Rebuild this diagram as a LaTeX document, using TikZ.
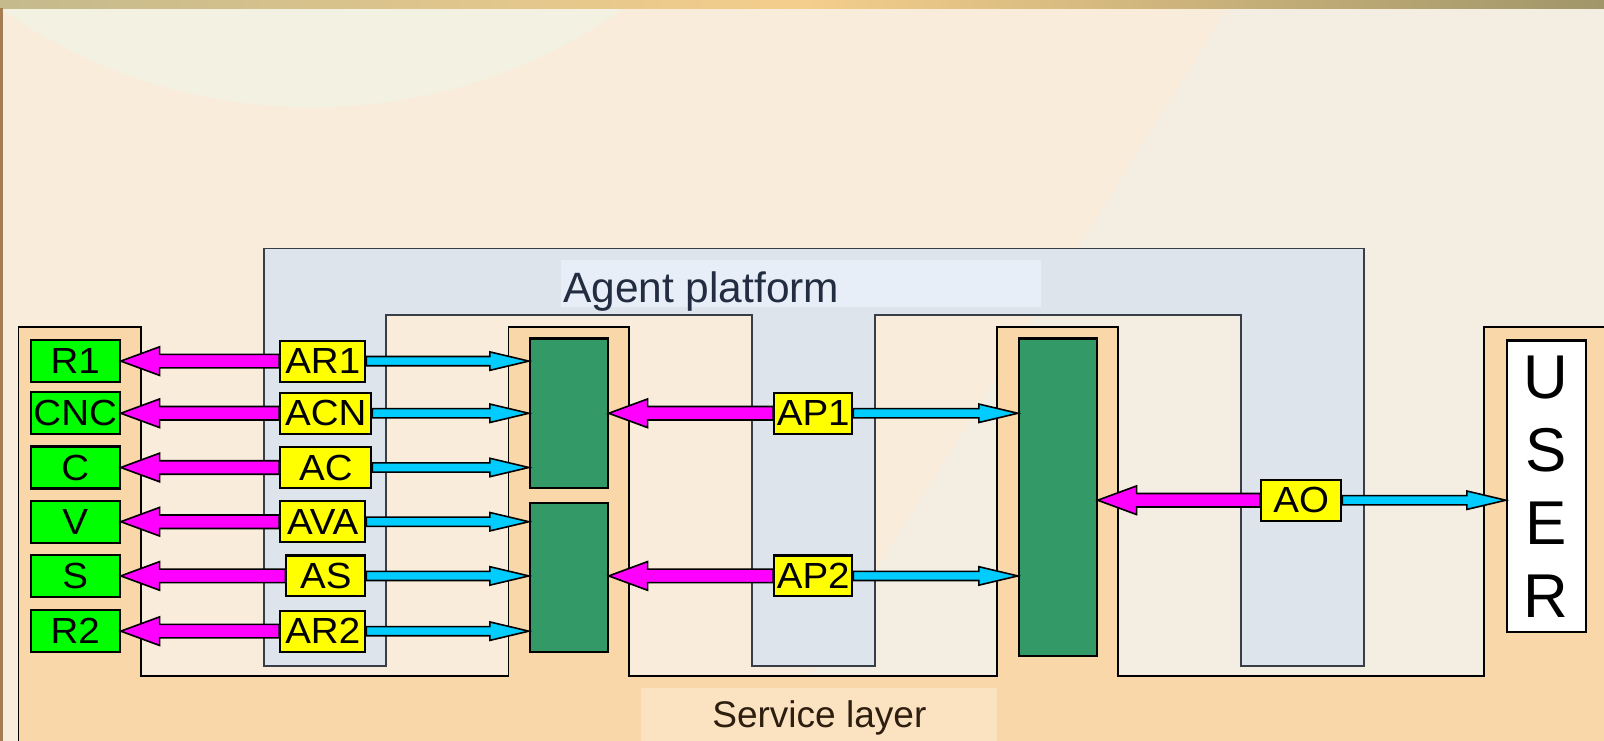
\documentclass[tikz,border=0pt]{standalone}
\usepackage{fontspec}
\setmainfont{Liberation Sans}
\newfontfamily\labelfont[FakeStretch=1.06]{Liberation Sans}
\usetikzlibrary{calc}

\definecolor{bgpeach}{RGB}{250,236,218}
\definecolor{bgright}{RGB}{243,237,226}
\definecolor{bgcircle}{RGB}{243,241,226}
\definecolor{barleft}{RGB}{196,186,140}
\definecolor{barmid}{RGB}{244,206,140}
\definecolor{barright}{RGB}{160,150,105}
\definecolor{edgebrown}{RGB}{165,125,85}
\definecolor{servicefill}{RGB}{249,215,168}
\definecolor{servicelabel}{RGB}{251,226,192}
\definecolor{agentfill}{RGB}{221,228,236}
\definecolor{agentlabel}{RGB}{231,238,248}
\definecolor{agentline}{RGB}{55,62,72}
\definecolor{boxgreen}{RGB}{0,255,0}
\definecolor{hubgreen}{RGB}{51,153,102}
\definecolor{boxyellow}{RGB}{255,255,0}
\definecolor{arrowpink}{RGB}{255,0,255}
\definecolor{arrowcyan}{RGB}{0,204,255}
\definecolor{titletext}{RGB}{35,45,65}
\definecolor{servicetext}{RGB}{45,30,15}

\tikzset{
  % horizontal block arrow: shaft half-height, head half-height, head length, fill
  blockarrow/.style n args={4}{draw=black, line width=0.45pt, line join=miter, fill=#4,
    to path={let \p1=(\tikztostart), \p2=(\tikztotarget), \n1={sign(\x1-\x2)*#3} in
      (\p2) -- ({\x2+\n1},{\y2+#2}) -- ({\x2+\n1},{\y2+#1}) -- ({\x1},{\y2+#1})
      -- ({\x1},{\y2-#1}) -- ({\x2+\n1},{\y2-#1}) -- ({\x2+\n1},{\y2-#2}) -- cycle}},
  pinkarrow/.style={blockarrow={0.066cm}{0.14cm}{0.38cm}{arrowpink}},
  bluearrow/.style={blockarrow={0.045cm}{0.09cm}{0.38cm}{arrowcyan}},
  devicebox/.style={draw=black, line width=0.6pt, fill=boxgreen, minimum width=0.87cm,
    minimum height=0.41cm, inner sep=0pt, font=\labelfont\fontsize{10.1}{12}\selectfont},
  agentbox/.style={draw=black, line width=0.6pt, fill=boxyellow, minimum width=#1,
    minimum height=0.40cm, inner sep=0pt, font=\labelfont\fontsize{10.1}{12}\selectfont},
  hubbox/.style={draw=black, line width=0.6pt, fill=hubgreen, minimum width=0.76cm, inner sep=0pt},
  userbox/.style={draw=black, line width=0.6pt, fill=white, minimum width=0.77cm,
    minimum height=2.85cm, inner sep=0pt, align=center, font=\fontsize{17.2}{20.3}\selectfont},
}

\begin{document}
\begin{tikzpicture}[x=0.01cm, y=-0.01cm]
\useasboundingbox (0,0) rectangle (1568,724);

% slide background
\begin{scope}
  \clip (0,0) rectangle (1568,724);
  \fill[bgpeach] (0,0) rectangle (1568,724);
  \fill[bgcircle] (305,-423) circle (528);
  \fill[bgright] (1200,8) -- (1568,8) -- (1568,724) -- (752,724) -- cycle;
  \shade[left color=barleft, right color=barright, middle color=barmid] (0,0) rectangle (1568,8);
  \fill[edgebrown] (0,8) rectangle (3,724);
\end{scope}

% service layer (comb open at the top)
\draw[fill=servicefill, draw=black, line width=0.5pt]
  (18,740) -- (18,320) -- (138,320) -- (138,661) -- (497,661) -- (497,320)
  -- (615,320) -- (615,661) -- (975,661) -- (975,320) -- (1093,320) -- (1093,661)
  -- (1451,661) -- (1451,320) -- (1580,320) -- (1580,740) -- cycle;
\fill[servicelabel] (627,673) rectangle (975,724);
\node[anchor=base, text=servicetext, font=\fontsize{10.3}{12}\selectfont] (service) at (801,711) {Service layer};

% agent platform (comb open at the bottom)
\draw[fill=agentfill, draw=agentline, line width=0.5pt]
  (258,243) -- (1333,243) -- (1333,651) -- (1213,651) -- (1213,308) -- (855,308)
  -- (855,651) -- (735,651) -- (735,308) -- (377,308) -- (377,651) -- (258,651) -- cycle;
\fill[agentlabel] (548,254) rectangle (1018,300);
\node[anchor=base, text=titletext, font=\fontsize{11.8}{14}\selectfont] (platform) at (685.5,296) {Agent platform};

% hubs and the user
\node[hubbox, minimum height=1.46cm] (D1) at (556,404) {};
\node[hubbox, minimum height=1.45cm] (D2) at (556,564.5) {};
\node[hubbox, minimum height=3.10cm] (D3) at (1034,486) {};
\node[userbox] (user) at (1511.5,475.5) {U\\S\\E\\R};

% devices
\node[devicebox] (R1) at (73.5,353) {R1};
\node[devicebox] (CNC) at (73.5,404) {CNC};
\node[devicebox] (C) at (73.5,457) {C};
\node[devicebox] (V) at (73.5,510) {V};
\node[devicebox] (S) at (73.5,563) {S};
\node[devicebox] (R2) at (73.5,617) {R2};

% agent outlines, used as arrow ends; the filled boxes are drawn last
\node[agentbox=0.83cm, draw=none, fill=none] (AR1) at (315.5,353) {};
\node[agentbox=0.89cm, draw=none, fill=none] (ACN) at (318.5,404) {};
\node[agentbox=0.89cm, draw=none, fill=none] (AC) at (318.5,457) {};
\node[agentbox=0.83cm, draw=none, fill=none] (AVA) at (315.5,510) {};
\node[agentbox=0.77cm, draw=none, fill=none] (AS) at (318.5,563) {};
\node[agentbox=0.83cm, draw=none, fill=none] (AR2) at (315.5,617) {};
\node[agentbox=0.76cm, draw=none, fill=none] (AP1) at (795,404) {};
\node[agentbox=0.76cm, draw=none, fill=none] (AP2) at (795,563) {};
\node[agentbox=0.78cm, draw=none, fill=none] (AO) at (1272,489) {};

% arrows towards the devices
\draw[pinkarrow] (AR1.west) to (AR1.west -| R1.east);
\draw[pinkarrow] (ACN.west) to (ACN.west -| CNC.east);
\draw[pinkarrow] (AC.west) to (AC.west -| C.east);
\draw[pinkarrow] (AVA.west) to (AVA.west -| V.east);
\draw[pinkarrow] (AS.west) to (AS.west -| S.east);
\draw[pinkarrow] (AR2.west) to (AR2.west -| R2.east);
% arrows towards the hubs
\draw[bluearrow] (AR1.east) to (AR1.east -| D1.west);
\draw[bluearrow] (ACN.east) to (ACN.east -| D1.west);
\draw[bluearrow] (AC.east) to (AC.east -| D1.west);
\draw[bluearrow] (AVA.east) to (AVA.east -| D2.west);
\draw[bluearrow] (AS.east) to (AS.east -| D2.west);
\draw[bluearrow] (AR2.east) to (AR2.east -| D2.west);
\draw[pinkarrow] (AP1.west) to (AP1.west -| D1.east);
\draw[pinkarrow] (AP2.west) to (AP2.west -| D2.east);
\draw[bluearrow] (AP1.east) to (AP1.east -| D3.west);
\draw[bluearrow] (AP2.east) to (AP2.east -| D3.west);
\draw[pinkarrow] (AO.west) to (AO.west -| D3.east);
\draw[bluearrow] (AO.east) to (AO.east -| user.west);

% agent boxes on top of the arrows
\node[agentbox=0.83cm] at (AR1) {AR1};
\node[agentbox=0.89cm] at (ACN) {ACN};
\node[agentbox=0.89cm] at (AC) {AC};
\node[agentbox=0.83cm] at (AVA) {AVA};
\node[agentbox=0.77cm] at (AS) {AS};
\node[agentbox=0.83cm] at (AR2) {AR2};
\node[agentbox=0.76cm] at (AP1) {AP1};
\node[agentbox=0.76cm] at (AP2) {AP2};
\node[agentbox=0.78cm] at (AO) {AO};
\end{tikzpicture}
\end{document}
